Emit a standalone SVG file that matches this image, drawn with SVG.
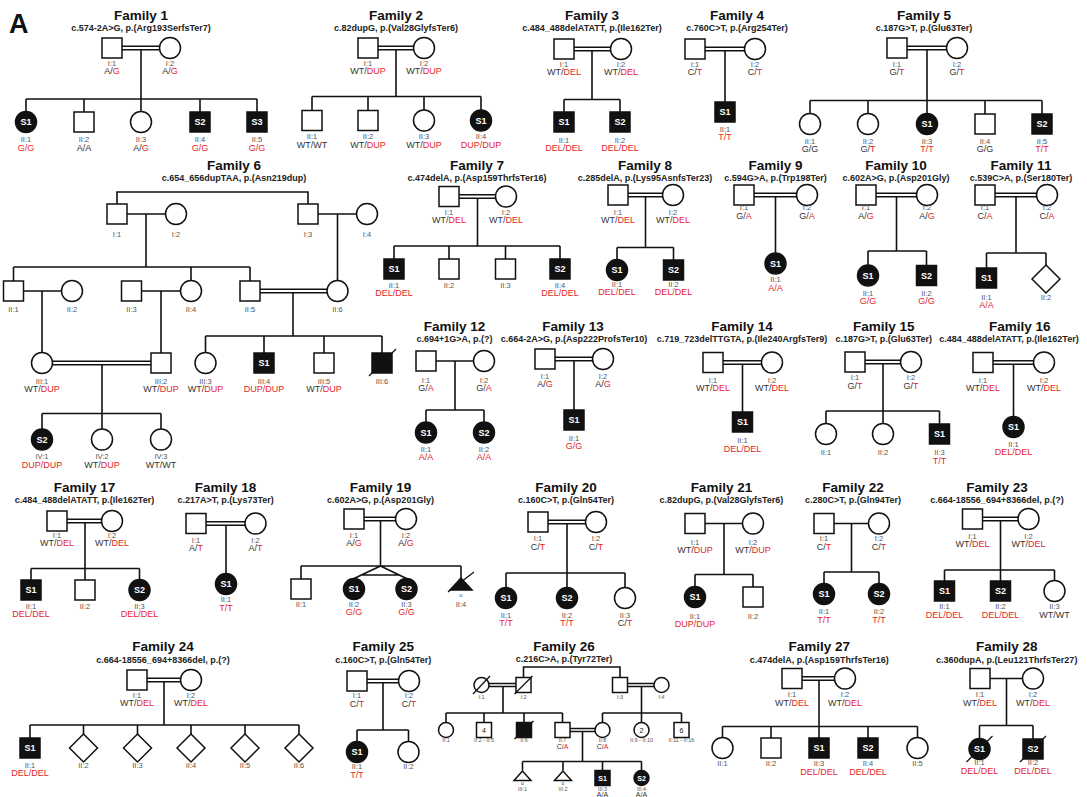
<svg xmlns="http://www.w3.org/2000/svg" width="1087" height="797" viewBox="0 0 1087 797">
<style>
text{font-family:"Liberation Sans",Arial,sans-serif}
.s{fill:#fff;stroke:#111;stroke-width:1.5}
.a{fill:#111;stroke:#111;stroke-width:1.5}
.l{fill:none;stroke:#111;stroke-width:1.6}
.x{fill:none;stroke:#111;stroke-width:1.3}
.t{font-size:13.5px;font-weight:bold;text-anchor:middle;fill:#111}
.v{font-size:9px;font-weight:bold;text-anchor:middle;fill:#222}
.i{font-size:7.5px;text-anchor:middle;fill:#555}
.g{font-size:9px;text-anchor:middle;fill:#333}
.r{fill:#e4262c}
.w{font-size:9px;font-weight:bold;text-anchor:middle;fill:#fff}
.i2{font-size:5.5px;text-anchor:middle;fill:#555}
.g2{font-size:7px;text-anchor:middle;fill:#333}
.w2{font-size:7px;font-weight:bold;text-anchor:middle;fill:#fff}
.n{font-size:7px;text-anchor:middle;fill:#222}
.u{font-size:5px;text-anchor:middle;fill:#333}
</style>
<rect width="1087" height="797" fill="#fff"/>
<text x="9" y="33" style="font-size:27px;font-weight:bold;fill:#111">A</text>

<g id="connectors">
<path class="l" d="M122 46.2H159.5M122 49.8H159.5M141 49.8V99M26 99H257M26 99V111.5M84 99V112M141 99V111.5M200 99V112M257 99V112"/>
<path class="l" d="M378 46.2H413.5M378 49.8H413.5M396 49.8V96.5M312 96.5H481M312 96.5V110.5M368 96.5V110.5M424 96.5V110M481 96.5V110"/>
<path class="l" d="M574 47.2H610.5M574 50.8H610.5M592 50.8V99.5M564 99.5H620M564 99.5V112M620 99.5V112"/>
<path class="l" d="M705 47.2H744.5M705 50.8H744.5M725 50.8V102"/>
<path class="l" d="M907 46.2H946.5M907 49.8H946.5M927 49.8V100.5M810 100.5H1042M810 100.5V113.5M868 100.5V113.5M927 100.5V113.5M985 100.5V114M1042 100.5V114"/>
<path class="l" d="M117 204V192H308V204M127 214H165.5M146 214V267M318 214H356.5M337.5 214V280.5M13.5 267H250M13.5 267V281M191 267V280.5M250 267V281M23.5 291H61.5M42 291V352.5M141.5 291H180.5M161 291V353M260 289.2H327M260 292.8H327M293 292.8V336M205.5 336H382M205.5 336V352.5M264 336V353M324 336V353M382 336V353M52.5 361.2H151M52.5 364.8H151M102 364.8V413.5M42 413.5H161M42 413.5V429M102 413.5V429M161 413.5V429"/>
<path class="l" d="M459 194.7H495.5M459 198.3H495.5M477.5 198.3V246M394 246H560M394 246V259M449 246V259M505.5 246V259M560 246V259"/>
<path class="l" d="M628 193.2H662.5M628 196.8H662.5M645.5 196.8V247.5M617 247.5H673.5M617 247.5V259.5M673.5 247.5V260"/>
<path class="l" d="M754 193.2H796.5M754 196.8H796.5M775.5 196.8V253"/>
<path class="l" d="M876 193.2H916.5M876 196.8H916.5M896.5 196.8V251M868 251H926.5M868 251V265M926.5 251V265.5"/>
<path class="l" d="M995 193.2H1036.5M995 196.8H1036.5M1016 196.8V253M986.5 253H1046M986.5 253V268M1046 253V265"/>
<path class="l" d="M436 361H473.5M455 361V410M426 410H484M426 410V422M484 410V422"/>
<path class="l" d="M555 357.2H592.5M555 360.8H592.5M574 360.8V410"/>
<path class="l" d="M723 360.7H761.5M723 364.3H761.5M742.5 364.3V412"/>
<path class="l" d="M865 360.2H900.5M865 363.8H900.5M883 363.8V411M826 411H939.5M826 411V423.5M883 411V423.5M939.5 411V424"/>
<path class="l" d="M993 360.7H1033.5M993 364.3H1033.5M1013.5 364.3V416.5"/>
<path class="l" d="M67 519.2H101.5M67 522.8H101.5M85 522.8V568.5M31 568.5H139.5M31 568.5V580M85 568.5V580M139.5 568.5V579.5"/>
<path class="l" d="M206 521.7H245M206 525.3H245M226 525.3V573.5"/>
<path class="l" d="M364 517.2H395.5M364 520.8H395.5M380.5 520.8V566M301 566H461M301 566V579M380.5 566L354 578.5M380.5 566L406.5 578.5M361.4 575H399.5M461 566V578"/>
<path class="l" d="M548 520.2H585.5M548 523.8H585.5M567 523.8V587.5M506 573H625M506 573V587.5M625 573V587.5"/>
<path class="l" d="M705 523.5H742.5M724 523.5V574.5M695 574.5H753M695 574.5V586.5M753 574.5V587"/>
<path class="l" d="M834 523.5H868.5M851.5 523.5V572M824 572H879M824 572V583.5M879 572V583.5"/>
<path class="l" d="M982.5 517.2H1018M982.5 520.8H1018M1000.5 520.8V570M944.5 570H1054.5M944.5 570V581M1000.5 570V581M1054.5 570V580.5"/>
<path class="l" d="M147 678.2H180.5M147 681.8H180.5M164 681.8V725M30 725H299M30 725V738M83.5 725V734M137.5 725V734M191 725V734M245 725V734M299 725V734"/>
<path class="l" d="M367 679.2H398.5M367 682.8H398.5M383 682.8V730M357 730H408.5M357 730V741.5M408.5 730V741.5"/>
<path class="l" d="M523.5 677.5V667H620V677.5M489 683.5H516M489 686.5H516M503 686.5V713M627.5 683.5H654M627.5 686.5H654M641.5 686.5V722.5M446 713H562.5M446 713V722.5M484 713V722.5M524 713V722.5M562.5 713V722.5M602.5 713H681.5M602.5 713V722.5M681.5 713V722.5M570 728.5H595M570 731.5H595M582.5 731.5V761.5M522.5 761.5H641.5M522.5 761.5V770.5M563 761.5V770.5M602.5 761.5V770.5M641.5 761.5V770.5"/>
<path class="l" d="M802 676.7H834.5M802 680.3H834.5M819 680.3V726.5M722.5 726.5H917.5M722.5 726.5V737.5M771 726.5V738M819 726.5V738M868 726.5V738M917.5 726.5V737.5"/>
<path class="l" d="M990 678.5H1022.5M1006.5 678.5V725.5M979.5 725.5H1033M979.5 725.5V738.5M1033 725.5V739"/>
</g>

<g id="family-1">
<text class="t" x="141" y="19.5">Family 1</text>
<text class="v" x="141" y="31">c.574-2A&gt;G, p.(Arg193SerfsTer7)</text>
<g id="f1-I1"><rect class="s" x="102" y="38" width="20" height="20"/><text class="i" x="112" y="65.5">I:1</text><text class="g" x="112" y="74">A/<tspan class="r">G</tspan></text></g>
<g id="f1-I2"><circle class="s" cx="170" cy="48" r="10.5"/><text class="i" x="170" y="65.5">I:2</text><text class="g" x="170" y="74">A/<tspan class="r">G</tspan></text></g>
<g id="f1-II1"><circle class="a" cx="26" cy="122" r="10.5"/><text class="w" x="26" y="125.2">S1</text><text class="i" x="26" y="142">II:1</text><text class="g r" x="26" y="150.5">G/G</text></g>
<g id="f1-II2"><rect class="s" x="74" y="112" width="20" height="20"/><text class="i" x="84" y="142">II:2</text><text class="g" x="84" y="150.5">A/A</text></g>
<g id="f1-II3"><circle class="s" cx="141" cy="122" r="10.5"/><text class="i" x="141" y="142">II:3</text><text class="g" x="141" y="150.5">A/<tspan class="r">G</tspan></text></g>
<g id="f1-II4"><rect class="a" x="190" y="112" width="20" height="20"/><text class="w" x="200" y="125.2">S2</text><text class="i" x="200" y="142">II:4</text><text class="g r" x="200" y="150.5">G/G</text></g>
<g id="f1-II5"><rect class="a" x="247" y="112" width="20" height="20"/><text class="w" x="257" y="125.2">S3</text><text class="i" x="257" y="142">II:5</text><text class="g r" x="257" y="150.5">G/G</text></g>
</g>

<g id="family-2">
<text class="t" x="396" y="19.5">Family 2</text>
<text class="v" x="396" y="31">c.82dupG, p.(Val28GlyfsTer6)</text>
<g id="f2-I1"><rect class="s" x="358" y="38" width="20" height="20"/><text class="i" x="368" y="65.5">I:1</text><text class="g" x="368" y="74">WT/<tspan class="r">DUP</tspan></text></g>
<g id="f2-I2"><circle class="s" cx="424" cy="48" r="10.5"/><text class="i" x="424" y="65.5">I:2</text><text class="g" x="424" y="74">WT/<tspan class="r">DUP</tspan></text></g>
<g id="f2-II1"><rect class="s" x="302" y="110.5" width="20" height="20"/><text class="i" x="312" y="139">II:1</text><text class="g" x="312" y="147.5">WT/WT</text></g>
<g id="f2-II2"><rect class="s" x="358" y="110.5" width="20" height="20"/><text class="i" x="368" y="139">II:2</text><text class="g" x="368" y="147.5">WT/<tspan class="r">DUP</tspan></text></g>
<g id="f2-II3"><circle class="s" cx="424" cy="120.5" r="10.5"/><text class="i" x="424" y="139">II:3</text><text class="g" x="424" y="147.5">WT/<tspan class="r">DUP</tspan></text></g>
<g id="f2-II4"><circle class="a" cx="481" cy="120.5" r="10.5"/><text class="w" x="481" y="123.7">S1</text><text class="i" x="481" y="139">II:4</text><text class="g r" x="481" y="147.5">DUP/DUP</text></g>
</g>

<g id="family-3">
<text class="t" x="592" y="19.5">Family 3</text>
<text class="v" x="592" y="31">c.484_488delATATT, p.(Ile162Ter)</text>
<g id="f3-I1"><rect class="s" x="554" y="39" width="20" height="20"/><text class="i" x="564" y="66.5">I:1</text><text class="g" x="564" y="75">WT/<tspan class="r">DEL</tspan></text></g>
<g id="f3-I2"><circle class="s" cx="621" cy="49" r="10.5"/><text class="i" x="621" y="66.5">I:2</text><text class="g" x="621" y="75">WT/<tspan class="r">DEL</tspan></text></g>
<g id="f3-II1"><rect class="a" x="554" y="112" width="20" height="20"/><text class="w" x="564" y="125.2">S1</text><text class="i" x="564" y="142.5">II:1</text><text class="g r" x="564" y="151">DEL/DEL</text></g>
<g id="f3-II2"><rect class="a" x="610" y="112" width="20" height="20"/><text class="w" x="620" y="125.2">S2</text><text class="i" x="620" y="142.5">II:2</text><text class="g r" x="620" y="151">DEL/DEL</text></g>
</g>

<g id="family-4">
<text class="t" x="737" y="19.5">Family 4</text>
<text class="v" x="737" y="31">c.760C&gt;T, p.(Arg254Ter)</text>
<g id="f4-I1"><rect class="s" x="685" y="39" width="20" height="20"/><text class="i" x="695" y="66.5">I:1</text><text class="g" x="695" y="75">C/<tspan class="r">T</tspan></text></g>
<g id="f4-I2"><circle class="s" cx="755" cy="49" r="10.5"/><text class="i" x="755" y="66.5">I:2</text><text class="g" x="755" y="75">C/<tspan class="r">T</tspan></text></g>
<g id="f4-II1"><rect class="a" x="715" y="102" width="20" height="20"/><text class="w" x="725" y="115.2">S1</text><text class="i" x="725" y="131.5">II:1</text><text class="g r" x="725" y="140">T/T</text></g>
</g>

<g id="family-5">
<text class="t" x="924" y="19.5">Family 5</text>
<text class="v" x="924" y="31">c.187G&gt;T, p.(Glu63Ter)</text>
<g id="f5-I1"><rect class="s" x="887" y="38" width="20" height="20"/><text class="i" x="897" y="66.5">I:1</text><text class="g" x="897" y="75">G/<tspan class="r">T</tspan></text></g>
<g id="f5-I2"><circle class="s" cx="957" cy="48" r="10.5"/><text class="i" x="957" y="66.5">I:2</text><text class="g" x="957" y="75">G/<tspan class="r">T</tspan></text></g>
<g id="f5-II1"><circle class="s" cx="810" cy="124" r="10.5"/><text class="i" x="810" y="143.5">II:1</text><text class="g" x="810" y="152">G/G</text></g>
<g id="f5-II2"><circle class="s" cx="868" cy="124" r="10.5"/><text class="i" x="868" y="143.5">II:2</text><text class="g" x="868" y="152">G/<tspan class="r">T</tspan></text></g>
<g id="f5-II3"><circle class="a" cx="927" cy="124" r="10.5"/><text class="w" x="927" y="127.2">S1</text><text class="i" x="927" y="143.5">II:3</text><text class="g r" x="927" y="152">T/T</text></g>
<g id="f5-II4"><rect class="s" x="975" y="114" width="20" height="20"/><text class="i" x="985" y="143.5">II:4</text><text class="g" x="985" y="152">G/G</text></g>
<g id="f5-II5"><rect class="a" x="1032" y="114" width="20" height="20"/><text class="w" x="1042" y="127.2">S2</text><text class="i" x="1042" y="143.5">II:5</text><text class="g r" x="1042" y="152">T/T</text></g>
</g>

<g id="family-6">
<text class="t" x="234" y="169.5">Family 6</text>
<text class="v" x="234" y="181">c.654_656dupTAA, p.(Asn219dup)</text>
<g id="f6-I1"><rect class="s" x="107" y="204" width="20" height="20"/><text class="i" x="117" y="236.5">I:1</text></g>
<g id="f6-I2"><circle class="s" cx="176" cy="214" r="10.5"/><text class="i" x="176" y="236.5">I:2</text></g>
<g id="f6-I3"><rect class="s" x="298" y="204" width="20" height="20"/><text class="i" x="308" y="236.5">I:3</text></g>
<g id="f6-I4"><circle class="s" cx="367" cy="214" r="10.5"/><text class="i" x="367" y="236.5">I:4</text></g>
<g id="f6-II1"><rect class="s" x="3.5" y="281" width="20" height="20"/><text class="i" x="13.5" y="312">II:1</text></g>
<g id="f6-II2"><circle class="s" cx="72" cy="291" r="10.5"/><text class="i" x="72" y="312">II:2</text></g>
<g id="f6-II3"><rect class="s" x="121.5" y="281" width="20" height="20"/><text class="i" x="131.5" y="312">II:3</text></g>
<g id="f6-II4"><circle class="s" cx="191" cy="291" r="10.5"/><text class="i" x="191" y="312">II:4</text></g>
<g id="f6-II5"><rect class="s" x="240" y="281" width="20" height="20"/><text class="i" x="250" y="312">II:5</text></g>
<g id="f6-II6"><circle class="s" cx="337.5" cy="291" r="10.5"/><text class="i" x="337.5" y="312">II:6</text></g>
<g id="f6-III1"><circle class="s" cx="42" cy="363" r="10.5"/><text class="i" x="42" y="383.5">III:1</text><text class="g" x="42" y="392">WT/<tspan class="r">DUP</tspan></text></g>
<g id="f6-III2"><rect class="s" x="151" y="353" width="20" height="20"/><text class="i" x="161" y="383.5">III:2</text><text class="g" x="161" y="392">WT/<tspan class="r">DUP</tspan></text></g>
<g id="f6-III3"><circle class="s" cx="205.5" cy="363" r="10.5"/><text class="i" x="205.5" y="383.5">III:3</text><text class="g" x="205.5" y="392">WT/<tspan class="r">DUP</tspan></text></g>
<g id="f6-III4"><rect class="a" x="254" y="353" width="20" height="20"/><text class="w" x="264" y="366.2">S1</text><text class="i" x="264" y="383.5">III:4</text><text class="g r" x="264" y="392">DUP/DUP</text></g>
<g id="f6-III5"><rect class="s" x="314" y="353" width="20" height="20"/><text class="i" x="324" y="383.5">III:5</text><text class="g" x="324" y="392">WT/<tspan class="r">DUP</tspan></text></g>
<g id="f6-III6"><rect class="a" x="372" y="353" width="20" height="20"/><path class="x" d="M369 376L396 349"/><text class="i" x="382" y="383.5">III:6</text></g>
<g id="f6-IV1"><circle class="a" cx="42" cy="439.5" r="10.5"/><text class="w" x="42" y="442.7">S2</text><text class="i" x="42" y="459">IV:1</text><text class="g r" x="42" y="467.5">DUP/DUP</text></g>
<g id="f6-IV2"><circle class="s" cx="102" cy="439.5" r="10.5"/><text class="i" x="102" y="459">IV:2</text><text class="g" x="102" y="467.5">WT/<tspan class="r">DUP</tspan></text></g>
<g id="f6-IV3"><circle class="s" cx="161" cy="439.5" r="10.5"/><text class="i" x="161" y="459">IV:3</text><text class="g" x="161" y="467.5">WT/WT</text></g>
</g>

<g id="family-7">
<text class="t" x="477" y="169.5">Family 7</text>
<text class="v" x="477" y="181">c.474delA, p.(Asp159ThrfsTer16)</text>
<g id="f7-I1"><rect class="s" x="439" y="186.5" width="20" height="20"/><text class="i" x="449" y="214.5">I:1</text><text class="g" x="449" y="223">WT/<tspan class="r">DEL</tspan></text></g>
<g id="f7-I2"><circle class="s" cx="506" cy="196.5" r="10.5"/><text class="i" x="506" y="214.5">I:2</text><text class="g" x="506" y="223">WT/<tspan class="r">DEL</tspan></text></g>
<g id="f7-II1"><rect class="a" x="384" y="259" width="20" height="20"/><text class="w" x="394" y="272.2">S1</text><text class="i" x="394" y="287.5">II:1</text><text class="g r" x="394" y="296">DEL/DEL</text></g>
<g id="f7-II2"><rect class="s" x="439" y="259" width="20" height="20"/><text class="i" x="449" y="287.5">II:2</text></g>
<g id="f7-II3"><rect class="s" x="495.5" y="259" width="20" height="20"/><text class="i" x="505.5" y="287.5">II:3</text></g>
<g id="f7-II4"><rect class="a" x="550" y="259" width="20" height="20"/><text class="w" x="560" y="272.2">S2</text><text class="i" x="560" y="287.5">II:4</text><text class="g r" x="560" y="296">DEL/DEL</text></g>
</g>

<g id="family-8">
<text class="t" x="645" y="169.5">Family 8</text>
<text class="v" x="645" y="181">c.285delA, p.(Lys95AsnfsTer23)</text>
<g id="f8-I1"><rect class="s" x="608" y="185" width="20" height="20"/><text class="i" x="618" y="214.5">I:1</text><text class="g" x="618" y="223">WT/<tspan class="r">DEL</tspan></text></g>
<g id="f8-I2"><circle class="s" cx="673" cy="195" r="10.5"/><text class="i" x="673" y="214.5">I:2</text><text class="g" x="673" y="223">WT/<tspan class="r">DEL</tspan></text></g>
<g id="f8-II1"><circle class="a" cx="617" cy="270" r="10.5"/><text class="w" x="617" y="273.2">S1</text><text class="i" x="617" y="286.5">II:1</text><text class="g r" x="617" y="295">DEL/DEL</text></g>
<g id="f8-II2"><rect class="a" x="663.5" y="260" width="20" height="20"/><text class="w" x="673.5" y="273.2">S2</text><text class="i" x="673.5" y="286.5">II:2</text><text class="g r" x="673.5" y="295">DEL/DEL</text></g>
</g>

<g id="family-9">
<text class="t" x="775.5" y="169.5">Family 9</text>
<text class="v" x="775.5" y="181">c.594G&gt;A, p.(Trp198Ter)</text>
<g id="f9-I1"><rect class="s" x="734" y="185" width="20" height="20"/><text class="i" x="744" y="210">I:1</text><text class="g" x="744" y="218.5">G/<tspan class="r">A</tspan></text></g>
<g id="f9-I2"><circle class="s" cx="807" cy="195" r="10.5"/><text class="i" x="807" y="210">I:2</text><text class="g" x="807" y="218.5">G/<tspan class="r">A</tspan></text></g>
<g id="f9-II1"><circle class="a" cx="775.5" cy="263.5" r="10.5"/><text class="w" x="775.5" y="266.7">S1</text><text class="i" x="775.5" y="282">II:1</text><text class="g r" x="775.5" y="290.5">A/A</text></g>
</g>

<g id="family-10">
<text class="t" x="896" y="169.5">Family 10</text>
<text class="v" x="896" y="181">c.602A&gt;G, p.(Asp201Gly)</text>
<g id="f10-I1"><rect class="s" x="856" y="185" width="20" height="20"/><text class="i" x="866" y="210">I:1</text><text class="g" x="866" y="218.5">A/<tspan class="r">G</tspan></text></g>
<g id="f10-I2"><circle class="s" cx="927" cy="195" r="10.5"/><text class="i" x="927" y="210">I:2</text><text class="g" x="927" y="218.5">A/<tspan class="r">G</tspan></text></g>
<g id="f10-II1"><circle class="a" cx="868" cy="275.5" r="10.5"/><text class="w" x="868" y="278.7">S1</text><text class="i" x="868" y="295.5">II:1</text><text class="g r" x="868" y="304">G/G</text></g>
<g id="f10-II2"><rect class="a" x="916.5" y="265.5" width="20" height="20"/><text class="w" x="926.5" y="278.7">S2</text><text class="i" x="926.5" y="295.5">II:2</text><text class="g r" x="926.5" y="304">G/G</text></g>
</g>

<g id="family-11">
<text class="t" x="1021" y="169.5">Family 11</text>
<text class="v" x="1021" y="181">c.539C&gt;A, p.(Ser180Ter)</text>
<g id="f11-I1"><rect class="s" x="975" y="185" width="20" height="20"/><text class="i" x="985" y="210">I:1</text><text class="g" x="985" y="218.5">C/<tspan class="r">A</tspan></text></g>
<g id="f11-I2"><circle class="s" cx="1047" cy="195" r="10.5"/><text class="i" x="1047" y="210">I:2</text><text class="g" x="1047" y="218.5">C/<tspan class="r">A</tspan></text></g>
<g id="f11-II1"><rect class="a" x="976.5" y="268" width="20" height="20"/><text class="w" x="986.5" y="281.2">S1</text><text class="i" x="986.5" y="299.5">II:1</text><text class="g r" x="986.5" y="308">A/A</text></g>
<g id="f11-II2"><polygon class="s" points="1046,265 1060,279 1046,293 1032,279"/><text class="i" x="1046" y="300">II:2</text></g>
</g>

<g id="family-12">
<text class="t" x="454.5" y="330.5">Family 12</text>
<text class="v" x="454.5" y="342">c.694+1G&gt;A, p.(?)</text>
<g id="f12-I1"><rect class="s" x="416" y="351" width="20" height="20"/><text class="i" x="426" y="382.5">I:1</text><text class="g" x="426" y="391">G/<tspan class="r">A</tspan></text></g>
<g id="f12-I2"><circle class="s" cx="484" cy="361" r="10.5"/><text class="i" x="484" y="382.5">I:2</text><text class="g" x="484" y="391">G/<tspan class="r">A</tspan></text></g>
<g id="f12-II1"><circle class="a" cx="426" cy="432.5" r="10.5"/><text class="w" x="426" y="435.7">S1</text><text class="i" x="426" y="451.5">II:1</text><text class="g r" x="426" y="460">A/A</text></g>
<g id="f12-II2"><circle class="a" cx="484" cy="432.5" r="10.5"/><text class="w" x="484" y="435.7">S2</text><text class="i" x="484" y="451.5">II:2</text><text class="g r" x="484" y="460">A/A</text></g>
</g>

<g id="family-13">
<text class="t" x="573" y="330.5">Family 13</text>
<text class="v" x="574" y="342">c.664-2A&gt;G, p.(Asp222ProfsTer10)</text>
<g id="f13-I1"><rect class="s" x="535" y="349" width="20" height="20"/><text class="i" x="545" y="378.5">I:1</text><text class="g" x="545" y="387">A/<tspan class="r">G</tspan></text></g>
<g id="f13-I2"><circle class="s" cx="603" cy="359" r="10.5"/><text class="i" x="603" y="378.5">I:2</text><text class="g" x="603" y="387">A/<tspan class="r">G</tspan></text></g>
<g id="f13-II1"><rect class="a" x="564" y="410" width="20" height="20"/><text class="w" x="574" y="423.2">S1</text><text class="i" x="574" y="440.5">II:1</text><text class="g r" x="574" y="449">G/G</text></g>
</g>

<g id="family-14">
<text class="t" x="742" y="330.5">Family 14</text>
<text class="v" x="742" y="342">c.719_723delTTGTA, p.(Ile240ArgfsTer9)</text>
<g id="f14-I1"><rect class="s" x="703" y="352.5" width="20" height="20"/><text class="i" x="713" y="382.5">I:1</text><text class="g" x="713" y="391">WT/<tspan class="r">DEL</tspan></text></g>
<g id="f14-I2"><circle class="s" cx="772" cy="362.5" r="10.5"/><text class="i" x="772" y="382.5">I:2</text><text class="g" x="772" y="391">WT/<tspan class="r">DEL</tspan></text></g>
<g id="f14-II1"><rect class="a" x="732.5" y="412" width="20" height="20"/><text class="w" x="742.5" y="425.2">S1</text><text class="i" x="742.5" y="443">II:1</text><text class="g r" x="742.5" y="451.5">DEL/DEL</text></g>
</g>

<g id="family-15">
<text class="t" x="883.7" y="330.5">Family 15</text>
<text class="v" x="883.7" y="342">c.187G&gt;T, p.(Glu63Ter)</text>
<g id="f15-I1"><rect class="s" x="845" y="352" width="20" height="20"/><text class="i" x="855" y="380">I:1</text><text class="g" x="855" y="388.5">G/<tspan class="r">T</tspan></text></g>
<g id="f15-I2"><circle class="s" cx="911" cy="362" r="10.5"/><text class="i" x="911" y="380">I:2</text><text class="g" x="911" y="388.5">G/<tspan class="r">T</tspan></text></g>
<g id="f15-II1"><circle class="s" cx="826" cy="434" r="10.5"/><text class="i" x="826" y="455">II:1</text></g>
<g id="f15-II2"><circle class="s" cx="883" cy="434" r="10.5"/><text class="i" x="883" y="455">II:2</text></g>
<g id="f15-II3"><rect class="a" x="929.5" y="424" width="20" height="20"/><text class="w" x="939.5" y="437.2">S1</text><text class="i" x="939.5" y="455">II:3</text><text class="g r" x="939.5" y="463.5">T/T</text></g>
</g>

<g id="family-16">
<text class="t" x="1019.8" y="330.5">Family 16</text>
<text class="v" x="1009" y="342">c.484_488delATATT, p.(Ile162Ter)</text>
<g id="f16-I1"><rect class="s" x="973" y="352.5" width="20" height="20"/><text class="i" x="983" y="382.5">I:1</text><text class="g" x="983" y="391">WT/<tspan class="r">DEL</tspan></text></g>
<g id="f16-I2"><circle class="s" cx="1044" cy="362.5" r="10.5"/><text class="i" x="1044" y="382.5">I:2</text><text class="g" x="1044" y="391">WT/<tspan class="r">DEL</tspan></text></g>
<g id="f16-II1"><circle class="a" cx="1013.5" cy="427" r="10.5"/><text class="w" x="1013.5" y="430.2">S1</text><text class="i" x="1013.5" y="446.5">II:1</text><text class="g r" x="1013.5" y="455">DEL/DEL</text></g>
</g>

<g id="family-17">
<text class="t" x="84.5" y="491.5">Family 17</text>
<text class="v" x="84.5" y="503">c.484_488delATATT, p.(Ile162Ter)</text>
<g id="f17-I1"><rect class="s" x="47" y="511" width="20" height="20"/><text class="i" x="57" y="537.5">I:1</text><text class="g" x="57" y="546">WT/<tspan class="r">DEL</tspan></text></g>
<g id="f17-I2"><circle class="s" cx="112" cy="521" r="10.5"/><text class="i" x="112" y="537.5">I:2</text><text class="g" x="112" y="546">WT/<tspan class="r">DEL</tspan></text></g>
<g id="f17-II1"><rect class="a" x="21" y="580" width="20" height="20"/><text class="w" x="31" y="593.2">S1</text><text class="i" x="31" y="608.5">II:1</text><text class="g r" x="31" y="617">DEL/DEL</text></g>
<g id="f17-II2"><rect class="s" x="75" y="580" width="20" height="20"/><text class="i" x="85" y="608.5">II:2</text></g>
<g id="f17-II3"><circle class="a" cx="139.5" cy="590" r="10.5"/><text class="w" x="139.5" y="593.2">S2</text><text class="i" x="139.5" y="608.5">II:3</text><text class="g r" x="139.5" y="617">DEL/DEL</text></g>
</g>

<g id="family-18">
<text class="t" x="225.6" y="491.5">Family 18</text>
<text class="v" x="225.6" y="503">c.217A&gt;T, p.(Lys73Ter)</text>
<g id="f18-I1"><rect class="s" x="186" y="513.5" width="20" height="20"/><text class="i" x="196" y="542.5">I:1</text><text class="g" x="196" y="551">A/<tspan class="r">T</tspan></text></g>
<g id="f18-I2"><circle class="s" cx="255.5" cy="523.5" r="10.5"/><text class="i" x="255.5" y="542.5">I:2</text><text class="g" x="255.5" y="551">A/<tspan class="r">T</tspan></text></g>
<g id="f18-II1"><circle class="a" cx="226" cy="584" r="10.5"/><text class="w" x="226" y="587.2">S1</text><text class="i" x="226" y="602">II:1</text><text class="g r" x="226" y="610.5">T/T</text></g>
</g>

<g id="family-19">
<text class="t" x="380.5" y="491.5">Family 19</text>
<text class="v" x="380.5" y="503">c.602A&gt;G, p.(Asp201Gly)</text>
<g id="f19-I1"><rect class="s" x="344" y="509" width="20" height="20"/><text class="i" x="354" y="537.5">I:1</text><text class="g" x="354" y="546">A/<tspan class="r">G</tspan></text></g>
<g id="f19-I2"><circle class="s" cx="406" cy="519" r="10.5"/><text class="i" x="406" y="537.5">I:2</text><text class="g" x="406" y="546">A/<tspan class="r">G</tspan></text></g>
<g id="f19-II1"><rect class="s" x="291" y="579" width="20" height="20"/><text class="i" x="301" y="606.5">II:1</text></g>
<g id="f19-II2"><circle class="a" cx="354" cy="589" r="10.5"/><text class="w" x="354" y="592.2">S1</text><text class="i" x="354" y="606.5">II:2</text><text class="g r" x="354" y="615">G/G</text></g>
<g id="f19-II3"><circle class="a" cx="406.5" cy="589" r="10.5"/><text class="w" x="406.5" y="592.2">S2</text><text class="i" x="406.5" y="606.5">II:3</text><text class="g r" x="406.5" y="615">G/G</text></g>
<g id="f19-II4"><polygon class="a" points="461,578 450,590 472,590"/><path class="x" d="M448 592L474 572"/><text class="u" x="461" y="597">u</text><text class="i" x="461" y="606.5">II:4</text></g>
</g>

<g id="family-20">
<text class="t" x="566" y="491.5">Family 20</text>
<text class="v" x="566" y="503">c.160C&gt;T, p.(Gln54Ter)</text>
<g id="f20-I1"><rect class="s" x="528" y="512" width="20" height="20"/><text class="i" x="538" y="541">I:1</text><text class="g" x="538" y="549.5">C/<tspan class="r">T</tspan></text></g>
<g id="f20-I2"><circle class="s" cx="596" cy="522" r="10.5"/><text class="i" x="596" y="541">I:2</text><text class="g" x="596" y="549.5">C/<tspan class="r">T</tspan></text></g>
<g id="f20-II1"><circle class="a" cx="506" cy="598" r="10.5"/><text class="w" x="506" y="601.2">S1</text><text class="i" x="506" y="617.5">II:1</text><text class="g r" x="506" y="626">T/T</text></g>
<g id="f20-II2"><circle class="a" cx="567" cy="598" r="10.5"/><text class="w" x="567" y="601.2">S2</text><text class="i" x="567" y="617.5">II:2</text><text class="g r" x="567" y="626">T/T</text></g>
<g id="f20-II3"><circle class="s" cx="625" cy="598" r="10.5"/><text class="i" x="625" y="617.5">II:3</text><text class="g" x="625" y="626">C/<tspan class="r">T</tspan></text></g>
</g>

<g id="family-21">
<text class="t" x="721.4" y="491.5">Family 21</text>
<text class="v" x="721.4" y="503">c.82dupG, p.(Val28GlyfsTer6)</text>
<g id="f21-I1"><rect class="s" x="685" y="513.5" width="20" height="20"/><text class="i" x="695" y="544.5">I:1</text><text class="g" x="695" y="553">WT/<tspan class="r">DUP</tspan></text></g>
<g id="f21-I2"><circle class="s" cx="753" cy="523.5" r="10.5"/><text class="i" x="753" y="544.5">I:2</text><text class="g" x="753" y="553">WT/<tspan class="r">DUP</tspan></text></g>
<g id="f21-II1"><circle class="a" cx="695" cy="597" r="10.5"/><text class="w" x="695" y="600.2">S1</text><text class="i" x="695" y="618.5">II:1</text><text class="g r" x="695" y="627">DUP/DUP</text></g>
<g id="f21-II2"><rect class="s" x="743" y="587" width="20" height="20"/><text class="i" x="753" y="618.5">II:2</text></g>
</g>

<g id="family-22">
<text class="t" x="853" y="491.5">Family 22</text>
<text class="v" x="853" y="503">c.280C&gt;T, p.(Gln94Ter)</text>
<g id="f22-I1"><rect class="s" x="814" y="513.5" width="20" height="20"/><text class="i" x="824" y="541">I:1</text><text class="g" x="824" y="549.5">C/<tspan class="r">T</tspan></text></g>
<g id="f22-I2"><circle class="s" cx="879" cy="523.5" r="10.5"/><text class="i" x="879" y="541">I:2</text><text class="g" x="879" y="549.5">C/<tspan class="r">T</tspan></text></g>
<g id="f22-II1"><circle class="a" cx="824" cy="594" r="10.5"/><text class="w" x="824" y="597.2">S1</text><text class="i" x="824" y="614">II:1</text><text class="g r" x="824" y="622.5">T/T</text></g>
<g id="f22-II2"><circle class="a" cx="879" cy="594" r="10.5"/><text class="w" x="879" y="597.2">S2</text><text class="i" x="879" y="614">II:2</text><text class="g r" x="879" y="622.5">T/T</text></g>
</g>

<g id="family-23">
<text class="t" x="997" y="491.5">Family 23</text>
<text class="v" x="997" y="503">c.664-18556_694+8366del, p.(?)</text>
<g id="f23-I1"><rect class="s" x="962.5" y="509" width="20" height="20"/><text class="i" x="972.5" y="538.5">I:1</text><text class="g" x="972.5" y="547">WT/<tspan class="r">DEL</tspan></text></g>
<g id="f23-I2"><circle class="s" cx="1028.5" cy="519" r="10.5"/><text class="i" x="1028.5" y="538.5">I:2</text><text class="g" x="1028.5" y="547">WT/<tspan class="r">DEL</tspan></text></g>
<g id="f23-II1"><rect class="a" x="934.5" y="581" width="20" height="20"/><text class="w" x="944.5" y="594.2">S1</text><text class="i" x="944.5" y="609">II:1</text><text class="g r" x="944.5" y="617.5">DEL/DEL</text></g>
<g id="f23-II2"><rect class="a" x="990.5" y="581" width="20" height="20"/><text class="w" x="1000.5" y="594.2">S2</text><text class="i" x="1000.5" y="609">II:2</text><text class="g r" x="1000.5" y="617.5">DEL/DEL</text></g>
<g id="f23-II3"><circle class="s" cx="1054.5" cy="591" r="10.5"/><text class="i" x="1054.5" y="609">II:3</text><text class="g" x="1054.5" y="617.5">WT/WT</text></g>
</g>

<g id="family-24">
<text class="t" x="163" y="650.5">Family 24</text>
<text class="v" x="163" y="662.5">c.664-18556_694+8366del, p.(?)</text>
<g id="f24-I1"><rect class="s" x="127" y="670" width="20" height="20"/><text class="i" x="137" y="697.5">I:1</text><text class="g" x="137" y="706">WT/<tspan class="r">DEL</tspan></text></g>
<g id="f24-I2"><circle class="s" cx="191" cy="680" r="10.5"/><text class="i" x="191" y="697.5">I:2</text><text class="g" x="191" y="706">WT/<tspan class="r">DEL</tspan></text></g>
<g id="f24-II1"><rect class="a" x="20" y="738" width="20" height="20"/><text class="w" x="30" y="751.2">S1</text><text class="i" x="30" y="767.5">II:1</text><text class="g r" x="30" y="776">DEL/DEL</text></g>
<g id="f24-II2"><polygon class="s" points="83.5,734 97.5,748 83.5,762 69.5,748"/><text class="i" x="83.5" y="767.5">II:2</text></g>
<g id="f24-II3"><polygon class="s" points="137.5,734 151.5,748 137.5,762 123.5,748"/><text class="i" x="137.5" y="767.5">II:3</text></g>
<g id="f24-II4"><polygon class="s" points="191,734 205,748 191,762 177,748"/><text class="i" x="191" y="767.5">II:4</text></g>
<g id="f24-II5"><polygon class="s" points="245,734 259,748 245,762 231,748"/><text class="i" x="245" y="767.5">II:5</text></g>
<g id="f24-II6"><polygon class="s" points="299,734 313,748 299,762 285,748"/><text class="i" x="299" y="767.5">II:6</text></g>
</g>

<g id="family-25">
<text class="t" x="383.3" y="650.5">Family 25</text>
<text class="v" x="383.3" y="662.5">c.160C&gt;T, p.(Gln54Ter)</text>
<g id="f25-I1"><rect class="s" x="347" y="671" width="20" height="20"/><text class="i" x="357" y="698">I:1</text><text class="g" x="357" y="706.5">C/<tspan class="r">T</tspan></text></g>
<g id="f25-I2"><circle class="s" cx="409" cy="681" r="10.5"/><text class="i" x="409" y="698">I:2</text><text class="g" x="409" y="706.5">C/<tspan class="r">T</tspan></text></g>
<g id="f25-II1"><circle class="a" cx="357" cy="752" r="10.5"/><text class="w" x="357" y="755.2">S1</text><text class="i" x="357" y="769">II:1</text><text class="g r" x="357" y="777.5">T/T</text></g>
<g id="f25-II2"><circle class="s" cx="408.5" cy="752" r="10.5"/><text class="i" x="408.5" y="769">II:2</text></g>
</g>

<g id="family-26">
<text class="t" x="564" y="650.5">Family 26</text>
<text class="v" x="564" y="662">c.216C&gt;A, p.(Tyr72Ter)</text>
<g id="f26-I1"><circle class="s" cx="481.5" cy="685" r="7.5"/><path class="x" d="M473 694L490 676"/><text class="i2" x="481.5" y="698.5">I:1</text></g>
<g id="f26-I2"><rect class="s" x="516" y="677.5" width="15" height="15"/><path class="x" d="M514.5 694L532.5 676"/><text class="i2" x="523.5" y="698.5">I:2</text></g>
<g id="f26-I3"><rect class="s" x="612.5" y="677.5" width="15" height="15"/><text class="i2" x="620" y="698.5">I:3</text></g>
<g id="f26-I4"><circle class="s" cx="661.5" cy="685" r="7.5"/><text class="i2" x="661.5" y="698.5">I:4</text></g>
<g id="f26-II1"><circle class="s" cx="446" cy="730" r="7.5"/><text class="i2" x="446" y="742">II:1</text></g>
<g id="f26-II2-5"><rect class="s" x="476.5" y="722.5" width="15" height="15"/><text class="n" x="484" y="732.5">4</text><text class="i2" x="484" y="742">II:2 - II:5</text></g>
<g id="f26-II6"><rect class="a" x="516.5" y="722.5" width="15" height="15"/><path class="x" d="M514.5 739L533.5 721"/><text class="i2" x="524" y="742">II:6</text></g>
<g id="f26-II7"><rect class="s" x="555" y="722.5" width="15" height="15"/><text class="i2" x="562.5" y="742">II:7</text><text class="g2" x="562.5" y="748.5">C/<tspan class="r">A</tspan></text></g>
<g id="f26-II8"><circle class="s" cx="602.5" cy="730" r="7.5"/><text class="i2" x="602.5" y="742">II:8</text><text class="g2" x="602.5" y="748.5">C/<tspan class="r">A</tspan></text></g>
<g id="f26-II9-10"><circle class="s" cx="641.5" cy="730" r="7.5"/><text class="n" x="641.5" y="732.5">2</text><text class="i2" x="641.5" y="742">II:9 - II:10</text></g>
<g id="f26-II11-16"><rect class="s" x="674" y="722.5" width="15" height="15"/><text class="n" x="681.5" y="732.5">6</text><text class="i2" x="681.5" y="742">II:11 - II:16</text></g>
<g id="f26-III1"><polygon class="s" points="522.5,771 514,780.5 531,780.5"/><text class="u" x="522.5" y="785">u</text><text class="i2" x="522.5" y="790.5">III:1</text></g>
<g id="f26-III2"><polygon class="s" points="563,771 554.5,780.5 571.5,780.5"/><text class="u" x="563" y="785">u</text><text class="i2" x="563" y="790.5">III:2</text></g>
<g id="f26-III3"><rect class="a" x="595" y="770.5" width="15" height="15"/><text class="w2" x="602.5" y="780.5">S1</text><text class="i2" x="602.5" y="790.5">III:3</text><text class="g2 r" x="602.5" y="796.5">A/A</text></g>
<g id="f26-III4"><circle class="a" cx="641.5" cy="778" r="7.5"/><text class="w2" x="641.5" y="780.5">S2</text><text class="i2" x="641.5" y="790.5">III:4</text><text class="g2 r" x="641.5" y="796.5">A/A</text></g>
</g>

<g id="family-27">
<text class="t" x="819.3" y="650.5">Family 27</text>
<text class="v" x="819.3" y="662.5">c.474delA, p.(Asp159ThrfsTer16)</text>
<g id="f27-I1"><rect class="s" x="782" y="668.5" width="20" height="20"/><text class="i" x="792" y="697">I:1</text><text class="g" x="792" y="705.5">WT/<tspan class="r">DEL</tspan></text></g>
<g id="f27-I2"><circle class="s" cx="845" cy="678.5" r="10.5"/><text class="i" x="845" y="697">I:2</text><text class="g" x="845" y="705.5">WT/<tspan class="r">DEL</tspan></text></g>
<g id="f27-II1"><circle class="s" cx="722.5" cy="748" r="10.5"/><text class="i" x="722.5" y="766">II:1</text></g>
<g id="f27-II2"><rect class="s" x="761" y="738" width="20" height="20"/><text class="i" x="771" y="766">II:2</text></g>
<g id="f27-II3"><rect class="a" x="809" y="738" width="20" height="20"/><text class="w" x="819" y="751.2">S1</text><text class="i" x="819" y="766">II:3</text><text class="g r" x="819" y="774.5">DEL/DEL</text></g>
<g id="f27-II4"><rect class="a" x="858" y="738" width="20" height="20"/><text class="w" x="868" y="751.2">S2</text><text class="i" x="868" y="766">II:4</text><text class="g r" x="868" y="774.5">DEL/DEL</text></g>
<g id="f27-II5"><circle class="s" cx="917.5" cy="748" r="10.5"/><text class="i" x="917.5" y="766">II:5</text></g>
</g>

<g id="family-28">
<text class="t" x="1006.7" y="650.5">Family 28</text>
<text class="v" x="1006.7" y="662.5">c.360dupA, p.(Leu121ThrfsTer27)</text>
<g id="f28-I1"><rect class="s" x="970" y="668.5" width="20" height="20"/><text class="i" x="980" y="697">I:1</text><text class="g" x="980" y="705.5">WT/<tspan class="r">DEL</tspan></text></g>
<g id="f28-I2"><circle class="s" cx="1033" cy="678.5" r="10.5"/><text class="i" x="1033" y="697">I:2</text><text class="g" x="1033" y="705.5">WT/<tspan class="r">DEL</tspan></text></g>
<g id="f28-II1"><circle class="a" cx="979.5" cy="749" r="10.5"/><path class="x" d="M966.5 762L992.5 736"/><text class="w" x="979.5" y="752.2">S1</text><text class="i" x="979.5" y="765">II:1</text><text class="g r" x="979.5" y="773.5">DEL/DEL</text></g>
<g id="f28-II2"><rect class="a" x="1023" y="739" width="20" height="20"/><path class="x" d="M1020 762L1046 736"/><text class="w" x="1033" y="752.2">S2</text><text class="i" x="1033" y="765">II:2</text><text class="g r" x="1033" y="773.5">DEL/DEL</text></g>
</g>
</svg>
